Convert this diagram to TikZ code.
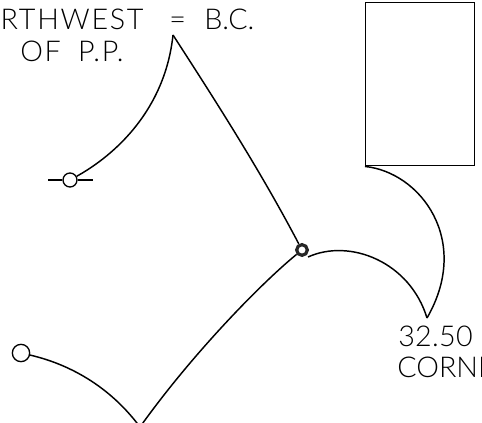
\documentclass[tikz,border=0pt]{standalone}
\usepackage{fontspec}
\setmainfont{Lato Light}
\newfontfamily\widefont[LetterSpace=6]{Lato Light}
\newfontfamily\midfont[LetterSpace=1]{Lato Light}
\tikzset{
  x=0.75pt,y=-0.75pt,
  line/.style={draw=black,line width=1.1pt,line join=round},
  thin line/.style={draw=black,line width=0.9pt},
  label/.style={inner sep=0pt,anchor=base west,font=\fontsize{21.5}{21.5}\selectfont,text=black},
  hole/.style={circle,draw=black,fill=white,line width=1pt,inner sep=0pt},
}
\begin{document}
\begin{tikzpicture}
\useasboundingbox (0,0) rectangle (482,423);
\clip (0,0) rectangle (482,423);
\node[label] (t1) at (-24,30) {\widefont ORTHWEST};
\node[label] (t1b) at (169,30) {=};
\node[label] (t1c) at (204,30) {B.C.};
\node[label] (t2) at (20,62) {\widefont OF\hspace{13pt}P.P.};
\node[label] (t3) at (398,347) {\midfont 32.50};
\node[label] (t4) at (397,378) {CORNE};
\coordinate (apex) at (173,35);
\coordinate (lowtip) at (427,318);
\coordinate (bottom) at (140,427);
\coordinate (hl) at (48,180);
\coordinate (hr) at (93,180);
\node[hole,minimum size=10.5pt] (c1) at (70,180) {};
\node[hole,minimum size=13pt] (c2) at (21,353) {};
\node[circle,draw=black!85,line width=2.4pt,fill=white,inner sep=0pt,minimum size=8pt] (j) at (302,250) {};
\node[draw=black,line width=1.1pt,minimum width=81.75pt,minimum height=122.25pt,inner sep=0pt,anchor=north west] (box) at (365,2) {};
\draw[thin line] (hl) -- (c1);
\draw[thin line] (c1) -- (hr);
\draw[line] (c1) .. controls (115,155) and (165,110) .. (apex);
\draw[line] (apex) .. controls (215,100) and (260,170) .. (j);
\draw[line] (j) .. controls (265,280) and (195,350) .. (bottom);
\draw[line] (c2) .. controls (60,362) and (105,380) .. (bottom);
\draw[line] (308,257) .. controls (350,238) and (410,262) .. (lowtip);
\draw[line] (box.south west) .. controls (420,172) and (472,240) .. (lowtip);
\end{tikzpicture}
\end{document}
